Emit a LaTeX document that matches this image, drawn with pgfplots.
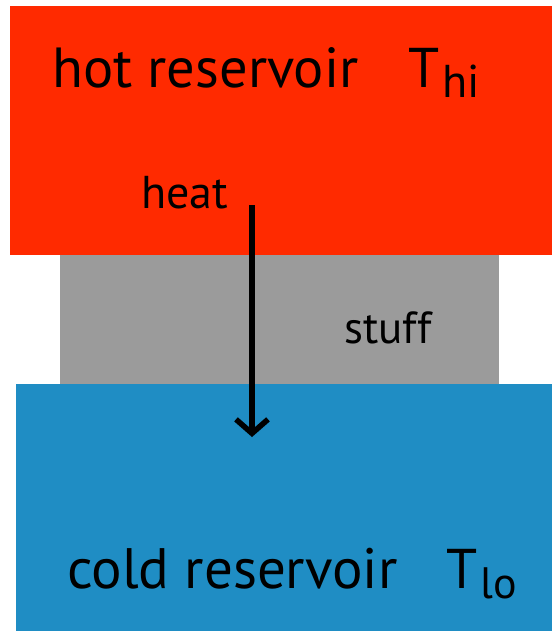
\documentclass[border=0pt]{standalone}
\usepackage{pgfplots}
\pgfplotsset{compat=1.18}
\usepackage{fontspec}
\setmainfont{PT Sans}
\usetikzlibrary{arrows.meta}
\definecolor{hotred}{RGB}{255,42,0}
\definecolor{stuffgray}{RGB}{155,155,155}
\definecolor{coldblue}{RGB}{31,141,196}
\begin{document}
\begin{tikzpicture}
\begin{axis}[
  width=552pt, height=631pt, scale only axis,
  xmin=0, xmax=552, ymin=0, ymax=631, y dir=reverse,
  axis lines=none, ticks=none, clip=true,
]
% background
\addplot[draw=none, fill=white] coordinates {(0,0) (552,0) (552,631) (0,631)} -- cycle;
% hot reservoir
\addplot[draw=none, fill=hotred] coordinates {(10,6) (552,6) (552,255) (10,255)} -- cycle;
% stuff
\addplot[draw=none, fill=stuffgray] coordinates {(60,255) (499,255) (499,383.5) (60,383.5)} -- cycle;
% cold reservoir
\addplot[draw=none, fill=coldblue] coordinates {(16,384) (552,384) (552,631) (16,631)} -- cycle;
% heat arrow
\addplot[black, line width=5.5pt, -{Straight Barb[length=14pt,width=32pt,line width=5.5pt]}] coordinates {(252,205) (252,437)};
\node[anchor=base west, inner sep=0, font=\fontsize{56.5}{60}\selectfont] at (axis cs:52,88) {hot reservoir};
\node[anchor=base west, inner sep=0, font=\fontsize{56}{60}\selectfont] at (axis cs:408,88) {T};
\node[anchor=base west, inner sep=0, font=\fontsize{46}{50}\selectfont] at (axis cs:442,98) {hi};
\node[anchor=base west, inner sep=0, font=\fontsize{46}{48}\selectfont] at (axis cs:141,208) {heat};
\node[anchor=base west, inner sep=0, font=\fontsize{45}{48}\selectfont] at (axis cs:344,343) {stuff};
\node[anchor=base west, inner sep=0, font=\fontsize{57}{60}\selectfont] at (axis cs:67,588) {cold reservoir};
\node[anchor=base west, inner sep=0, font=\fontsize{56}{60}\selectfont] at (axis cs:446,588) {T};
\node[anchor=base west, inner sep=0, font=\fontsize{44}{50}\selectfont] at (axis cs:480,598) {lo};
\end{axis}
\end{tikzpicture}
\end{document}
